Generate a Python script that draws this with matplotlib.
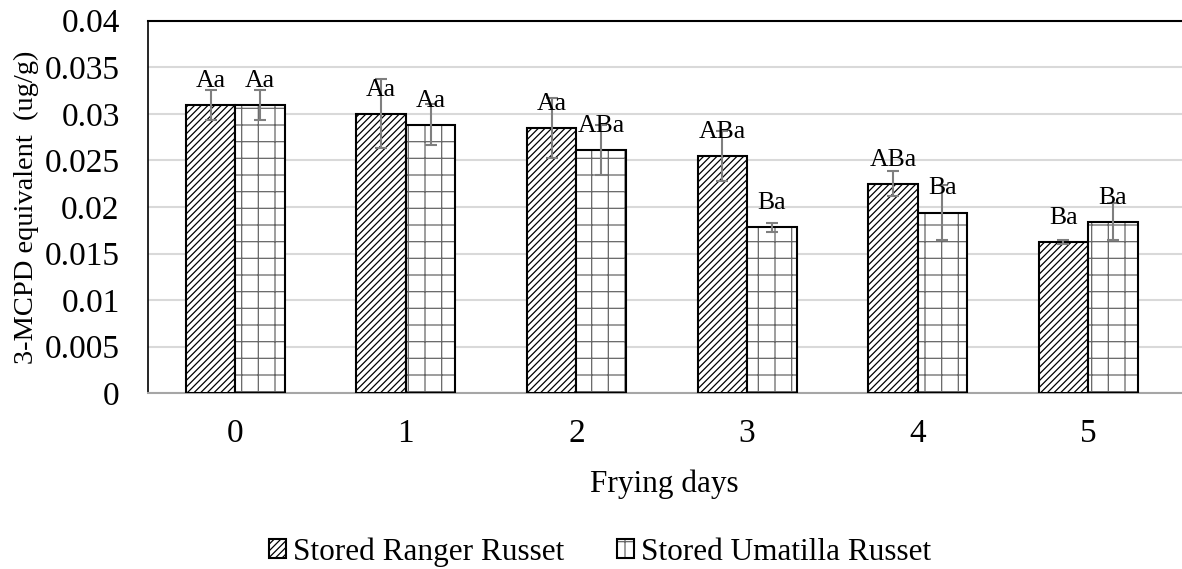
import matplotlib.pyplot as plt
import numpy as np

plt.rcParams['font.family'] = ['Liberation Serif', 'DejaVu Serif']
plt.rcParams['hatch.linewidth'] = 0.9

days = ['0', '1', '2', '3', '4', '5']
ranger = [0.0309, 0.0300, 0.0285, 0.0255, 0.0225, 0.0162]
ranger_err = [0.0016, 0.0037, 0.0032, 0.0027, 0.00135, 0.0002]
ranger_lbl = ['Aa', 'Aa', 'Aa', 'ABa', 'ABa', 'Ba']
umatilla = [0.0309, 0.0288, 0.0261, 0.0178, 0.0194, 0.0184]
umatilla_err = [0.0016, 0.0022, 0.0027, 0.00045, 0.003, 0.002]
umatilla_lbl = ['Aa', 'Aa', 'ABa', 'Ba', 'Ba', 'Ba']

fig = plt.figure(figsize=(11.82, 5.69), dpi=100)
ax = fig.add_axes([0.1248, 0.3088, 0.8752, 0.655])

x = np.arange(len(days))
w = 0.29
b1 = ax.bar(x - w/2, ranger, w, facecolor='white', edgecolor='black', linewidth=1.5,
            hatch='/////', label='Stored Ranger Russet', zorder=3)
b2 = ax.bar(x + w/2, umatilla, w, facecolor='white', edgecolor='black', linewidth=1.5,
            hatch='+', label='Stored Umatilla Russet', zorder=3)
for bar in b2:
    bar._hatch_color = (0.4, 0.4, 0.4, 1)

ax.errorbar(x - w/2, ranger, yerr=ranger_err, fmt='none', ecolor='#7f7f7f',
            elinewidth=1.5, capsize=4.5, capthick=1.5, zorder=4)
ax.errorbar(x + w/2, umatilla, yerr=umatilla_err, fmt='none', ecolor='#7f7f7f',
            elinewidth=1.5, capsize=4.5, capthick=1.5, zorder=4)

for xi, v, t in zip(x - w/2, ranger, ranger_lbl):
    ax.annotate(t, (xi, v), xytext=(0, 13), textcoords='offset points',
                ha='center', va='baseline', fontsize=18.5, zorder=5)
for xi, v, t in zip(x + w/2, umatilla, umatilla_lbl):
    ax.annotate(t, (xi, v), xytext=(0, 13), textcoords='offset points',
                ha='center', va='baseline', fontsize=18.5, zorder=5)

ax.set_xlim(-0.515, 5.55)
ax.set_ylim(0, 0.04)
ax.set_yticks(np.arange(0, 0.0401, 0.005))
ax.set_yticklabels(['0', '0.005', '0.01', '0.015', '0.02', '0.025', '0.03', '0.035', '0.04'])
ax.set_xticks(x)
ax.set_xticklabels(days)
ax.tick_params(length=0, labelsize=24)
ax.tick_params(axis='x', pad=18)
ax.tick_params(axis='y', pad=20)
ax.yaxis.grid(True, color='#d9d9d9', linewidth=1.5, zorder=0)
ax.set_axisbelow(True)

ax.spines['right'].set_visible(False)
ax.spines['top'].set_color('black')
ax.spines['top'].set_linewidth(1.5)
ax.spines['left'].set_color('black')
ax.spines['left'].set_linewidth(1.2)
ax.spines['bottom'].set_color('#a6a6a6')
ax.spines['bottom'].set_linewidth(1.5)

ax.set_xlabel('Frying days', fontsize=22.5, labelpad=15)
ax.set_ylabel('3-MCPD equivalent  (ug/g)', fontsize=20.5)
ax.yaxis.set_label_coords(-0.105, 0.5)

leg = fig.legend(handles=[b1, b2], loc='center', bbox_to_anchor=(0.5076, 0.03),
                 ncol=2, frameon=False, fontsize=22.5, handlelength=0.55, handleheight=0.55,
                 handletextpad=0.22, columnspacing=1.7)

fig.savefig('out.png', dpi=100)
